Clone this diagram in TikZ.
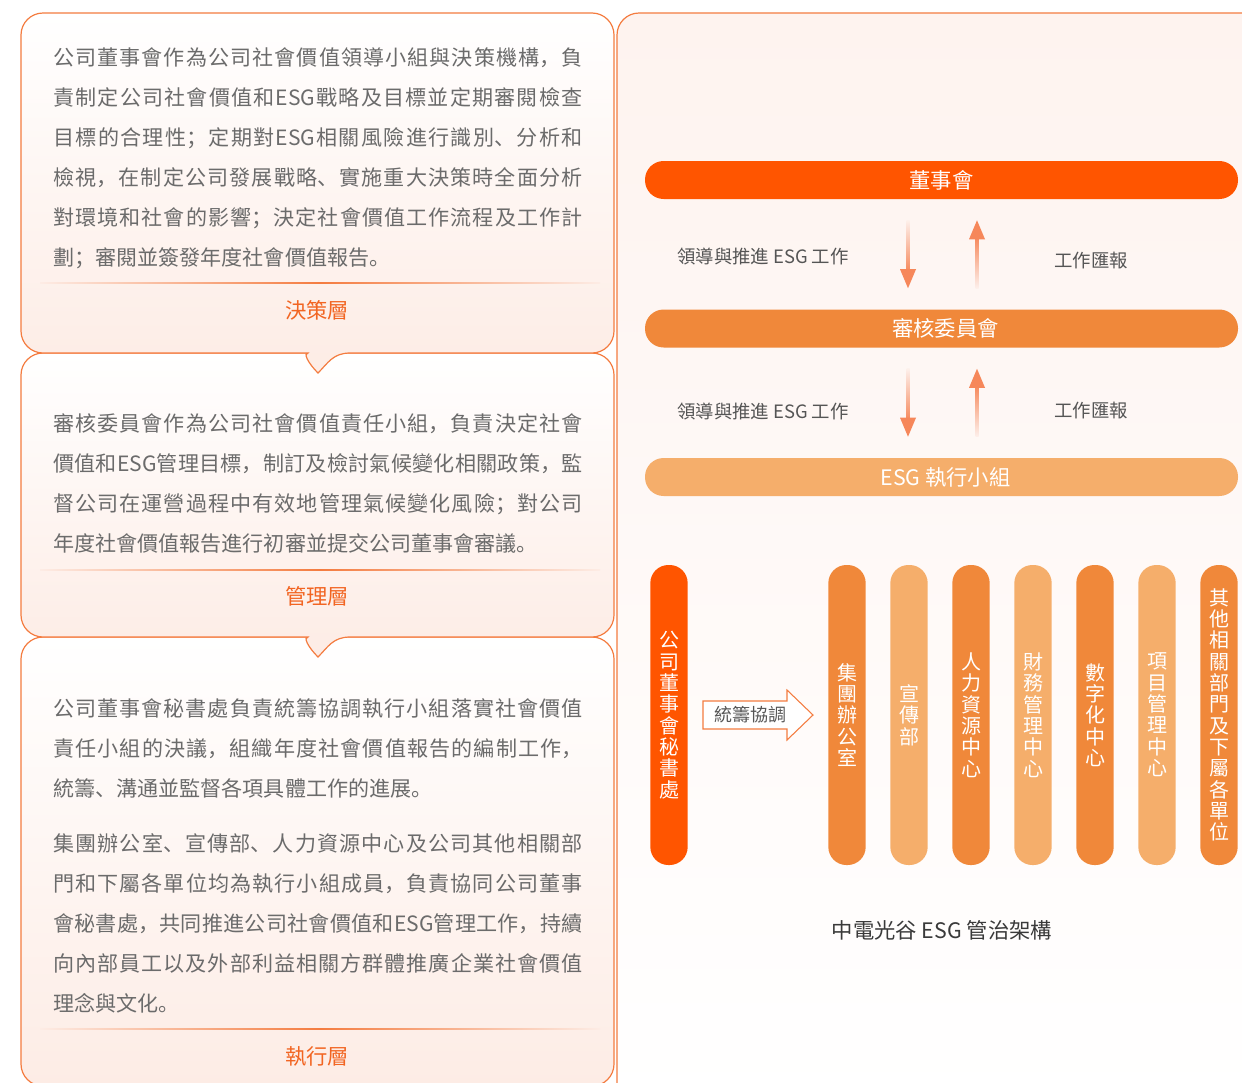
\documentclass[tikz,border=0pt]{standalone}
\usepackage{fontspec}
\setmainfont{Noto Sans CJK SC}
\usetikzlibrary{calc}
\XeTeXlinebreaklocale "zh"
\XeTeXlinebreakskip=0pt plus 3pt minus 0.8pt
\definecolor{bord}{HTML}{F47C40}
\definecolor{txt}{HTML}{6B6B6B}
\definecolor{lbl}{HTML}{F26522}
\definecolor{cRed}{HTML}{FF5500}
\definecolor{cMid}{HTML}{F0883A}
\definecolor{cLight}{HTML}{F5AE6B}
\definecolor{arr}{HTML}{F6875A}
\definecolor{arrfade}{HTML}{FDF0EB}
\definecolor{pinkbot}{HTML}{FDECE5}
\definecolor{panTop}{HTML}{FEF3EF}
\definecolor{gtxt}{HTML}{555555}
\definecolor{captxt}{HTML}{3A3A3A}
\begin{document}
\begin{tikzpicture}[x=0.75pt,y=-0.75pt,
  boxline/.style={draw=bord, line width=0.9pt},
  para/.style={anchor=base west, inner sep=0pt, text width=397pt, align=justify, text=txt, font=\fontsize{15.8}{30}\selectfont},
  layer/.style={text=lbl, font=\fontsize{16}{18}\selectfont, inner sep=0pt},
  sepline/.style={left color=pinkbot, right color=pinkbot, middle color=bord},
  hbar/.style={rectangle, rounded corners=14pt, minimum width=444.75pt, minimum height=28.5pt, inner sep=0pt, text=white, font=\fontsize{16}{18}\selectfont},
  vbar/.style={rectangle, rounded corners=13.5pt, minimum width=28pt, minimum height=225pt, inner sep=0pt, text=white, align=center, font=\fontsize{15}{16}\selectfont},
  alabel/.style={text=gtxt, font=\fontsize{13.8}{16}\selectfont, inner sep=0pt},
]
\fill[white] (0,0) rectangle (1242,1082);
\useasboundingbox (0,0) rectangle (1242,1082);

% right panel
\path[boxline, top color=panTop, bottom color=white, rounded corners=16.5pt] (617,13) rectangle (1265,1105);

% left boxes (drawn bottom-up so pointers overlay)
\path[boxline, top color=white, bottom color=pinkbot, rounded corners=16.5pt] (21,637) rectangle (614,1086);
\path[boxline, top color=white, bottom color=pinkbot]
  (286,637) .. controls (303,637) and (308,647) .. (318,657)
  .. controls (328,647) and (333,637) .. (350,637)
  [rounded corners=16.5pt] -- (614,637) -- (614,353) -- (21,353) -- (21,637) -- cycle;
\path[boxline, top color=white, bottom color=pinkbot]
  (286,353) .. controls (303,353) and (308,363) .. (318,373)
  .. controls (328,363) and (333,353) .. (350,353)
  [rounded corners=16.5pt] -- (614,353) -- (614,13) -- (21,13) -- (21,353) -- cycle;

% separators
\shade[sepline] (40,282.2) rectangle (600,283.8);
\shade[sepline] (40,569.2) rectangle (600,570.8);
\shade[sepline] (40,1028.2) rectangle (600,1029.8);

% box texts
\node[para] (t1) at (53,65) {公司董事會作為公司社會價值領導小組與決策機構，負\linebreak 責制定公司社會價值和ESG戰略及目標並定期審閱檢查\linebreak 目標的合理性；定期對ESG相關風險進行識別、分析和\linebreak 檢視，在制定公司發展戰略、實施重大決策時全面分析\linebreak 對環境和社會的影響；決定社會價值工作流程及工作計\linebreak 劃；審閱並簽發年度社會價值報告。};
\node[layer] (l1) at (317,310) {決策層};

\node[para] (t2) at (53,431) {審核委員會作為公司社會價值責任小組，負責決定社會\linebreak 價值和ESG管理目標，制訂及檢討氣候變化相關政策，監\linebreak 督公司在運營過程中有效地管理氣候變化風險；對公司\linebreak 年度社會價值報告進行初審並提交公司董事會審議。};
\node[layer] (l2) at (317,596) {管理層};

\node[para] (t3) at (53,716) {公司董事會秘書處負責統籌協調執行小組落實社會價值\linebreak 責任小組的決議，組織年度社會價值報告的編制工作，\linebreak 統籌、溝通並監督各項具體工作的進展。};
\node[para] (t4) at (53,851) {集團辦公室、宣傳部、人力資源中心及公司其他相關部\linebreak 門和下屬各單位均為執行小組成員，負責協同公司董事\linebreak 會秘書處，共同推進公司社會價值和ESG管理工作，持續\linebreak 向內部員工以及外部利益相關方群體推廣企業社會價值\linebreak 理念與文化。};
\node[layer] (l3) at (317,1056) {執行層};

% right: horizontal bars
\node[hbar, fill=cRed] (board) at (941.5,180) {董事會};
\node[hbar, fill=cMid] (audit) at (941.5,328.5) {\hspace*{6pt}審核委員會};
\node[hbar, fill=cLight] (esg) at (941.5,477) {\hspace*{6pt}ESG 執行小組};

% arrows board <-> audit
\coordinate (d1s) at ($(board.south)+(-33.5,21)$);
\coordinate (d1e) at ($(audit.north)+(-33.5,-21)$);
\shade[top color=arrfade, bottom color=arr] ($(d1s)+(-1.5,0)$) rectangle ($(d1e)+(1.5,-16)$);
\fill[arr] (d1e) -- ++(-8,-19) -- ++(16,0) -- cycle;
\coordinate (u1s) at ($(audit.north)+(35.5,-21)$);
\coordinate (u1e) at ($(board.south)+(35.5,21)$);
\shade[top color=arr, bottom color=arrfade] ($(u1e)+(-1.5,16)$) rectangle ($(u1s)+(1.5,0)$);
\fill[arr] (u1e) -- ++(-8,19) -- ++(16,0) -- cycle;

% arrows audit <-> esg
\coordinate (d2s) at ($(audit.south)+(-33.5,21)$);
\coordinate (d2e) at ($(esg.north)+(-33.5,-21)$);
\shade[top color=arrfade, bottom color=arr] ($(d2s)+(-1.5,0)$) rectangle ($(d2e)+(1.5,-16)$);
\fill[arr] (d2e) -- ++(-8,-19) -- ++(16,0) -- cycle;
\coordinate (u2s) at ($(esg.north)+(35.5,-21)$);
\coordinate (u2e) at ($(audit.south)+(35.5,21)$);
\shade[top color=arr, bottom color=arrfade] ($(u2e)+(-1.5,16)$) rectangle ($(u2s)+(1.5,0)$);
\fill[arr] (u2e) -- ++(-8,19) -- ++(16,0) -- cycle;

\node[alabel] (a1) at (763,256) {領導與推進 ESG 工作};
\node[alabel] (a2) at (1091,261) {工作匯報};
\node[alabel] (a3) at (763,411) {領導與推進 ESG 工作};
\node[alabel] (a4) at (1091,411) {工作匯報};

% vertical bars
\node[vbar, fill=cRed] (sec) at (669,715) {公\\司\\董\\事\\會\\秘\\書\\處};
\node[vbar, fill=cMid] (v1) at (847,715) {集\\團\\辦\\公\\室};
\node[vbar, fill=cLight] (v2) at (909,715) {宣\\傳\\部};
\node[vbar, fill=cMid] (v3) at (971,715) {人\\力\\資\\源\\中\\心};
\node[vbar, fill=cLight] (v4) at (1033,715) {財\\務\\管\\理\\中\\心};
\node[vbar, fill=cMid] (v5) at (1095,715) {數\\字\\化\\中\\心};
\node[vbar, fill=cLight] (v6) at (1157,715) {項\\目\\管\\理\\中\\心};
\node[vbar, fill=cMid] (v7) at (1219,715) {其\\他\\相\\關\\部\\門\\及\\下\\屬\\各\\單\\位};

% coordination arrow
\path[draw=bord, line width=0.8pt, fill=white] (703,701) -- (787,701) -- (787,690) -- (813,715) -- (787,740) -- (787,729) -- (703,729) -- cycle;
\node[alabel, font=\fontsize{13.5}{16}\selectfont] (coord) at (750,715) {統籌協調};

% caption
\node[text=captxt, font=\fontsize{16}{18}\selectfont, inner sep=0pt] (cap) at (942,930) {中電光谷 ESG 管治架構};
\end{tikzpicture}
\end{document}
